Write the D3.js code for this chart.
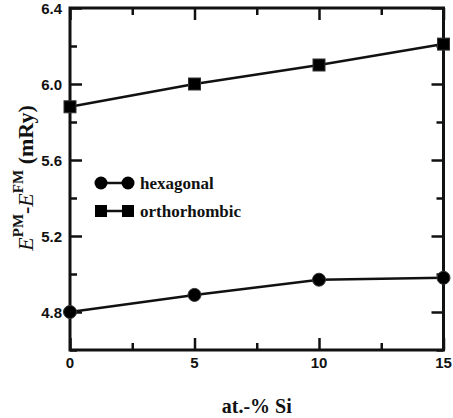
<!DOCTYPE html>
<html><head><meta charset="utf-8">
<script src="https://cdn.jsdelivr.net/npm/d3@7"></script>
<style>body{margin:0;background:#fff}svg{display:block}
.serif{font-family:"Liberation Serif","Times New Roman",Times,Tinos,"Nimbus Roman","DejaVu Serif",serif}
.sans{font-family:"Liberation Sans",Arial,Helvetica,Arimo,"Nimbus Sans","DejaVu Sans",sans-serif}
</style>
</head><body>
<svg id="c" width="453" height="418"></svg>
<script>
const siPercent = [0, 5, 10, 15];
const hexagonal = [4.80, 4.89, 4.97, 4.98];
const orthorhombic = [5.88, 6.00, 6.10, 6.21];
const xMajor = [0, 5, 10, 15];
const xMinor = [2.5, 7.5, 12.5];
const yMajor = [4.8, 5.2, 5.6, 6.0, 6.4];
const yMinor = [4.6, 5.0, 5.4, 5.8, 6.2];
const seriesNames = ["hexagonal", "orthorhombic"];

const svg = d3.select("#c");
const L = 70, R = 443.5, T = 8, B = 350;
const x = d3.scaleLinear().domain([0, 15]).range([L, R]);
const y = d3.scaleLinear().domain([4.6, 6.4]).range([B, T]);
const col = "#111";

const tickStyle = g => { g.select(".domain").remove(); g.selectAll("line").attr("stroke", col).attr("stroke-width", 2.5); g.selectAll("text").remove(); };
svg.append("g").attr("transform", `translate(0,${B})`).call(d3.axisBottom(x).tickValues(xMajor).tickSize(-12)).call(tickStyle);
svg.append("g").attr("transform", `translate(0,${B})`).call(d3.axisBottom(x).tickValues(xMinor).tickSize(-7)).call(tickStyle);
svg.append("g").attr("transform", `translate(0,${T})`).call(d3.axisTop(x).tickValues(xMajor).tickSize(-12)).call(tickStyle);
svg.append("g").attr("transform", `translate(0,${T})`).call(d3.axisTop(x).tickValues(xMinor).tickSize(-7)).call(tickStyle);
svg.append("g").attr("transform", `translate(${L},0)`).call(d3.axisLeft(y).tickValues(yMajor).tickSize(-12)).call(tickStyle);
svg.append("g").attr("transform", `translate(${L},0)`).call(d3.axisLeft(y).tickValues(yMinor).tickSize(-7)).call(tickStyle);
svg.append("g").attr("transform", `translate(${R},0)`).call(d3.axisRight(y).tickValues(yMajor).tickSize(-12)).call(tickStyle);
svg.append("g").attr("transform", `translate(${R},0)`).call(d3.axisRight(y).tickValues(yMinor).tickSize(-7)).call(tickStyle);

svg.append("rect").attr("x", L).attr("y", T).attr("width", R - L).attr("height", B - T)
  .attr("fill", "none").attr("stroke", col).attr("stroke-width", 3);

svg.append("g").selectAll("text").data(yMajor).join("text").attr("class", "sans")
  .attr("x", L - 8).attr("y", d => y(d) + 5.5).attr("text-anchor", "end")
  .attr("font-weight", "bold").attr("font-size", 15).attr("fill", col)
  .text(d => d.toFixed(1));
svg.append("g").selectAll("text").data(xMajor).join("text").attr("class", "sans")
  .attr("x", d => x(d)).attr("y", 368).attr("text-anchor", "middle")
  .attr("font-weight", "bold").attr("font-size", 15).attr("fill", col)
  .text(d => d);

const line = d3.line().x(d => x(d[0])).y(d => y(d[1]));
const hexPts = siPercent.map((s, i) => [s, hexagonal[i]]);
const ortPts = siPercent.map((s, i) => [s, orthorhombic[i]]);
svg.append("path").attr("d", line(hexPts)).attr("fill", "none").attr("stroke", col).attr("stroke-width", 2.5);
svg.append("path").attr("d", line(ortPts)).attr("fill", "none").attr("stroke", col).attr("stroke-width", 2.5);
svg.append("g").selectAll("circle").data(hexPts).join("circle")
  .attr("cx", d => x(d[0])).attr("cy", d => y(d[1])).attr("r", 6.5).attr("fill", "#000").attr("stroke", "#333").attr("stroke-width", 1);
svg.append("g").selectAll("rect").data(ortPts).join("rect")
  .attr("x", d => x(d[0]) - 6).attr("y", d => y(d[1]) - 6).attr("width", 12).attr("height", 12).attr("fill", "#000").attr("stroke", "#333").attr("stroke-width", 1);

const lg = svg.append("g");
[[183, "circle"], [211, "square"]].forEach(([ly, shape], i) => {
  lg.append("line").attr("x1", 101).attr("x2", 128).attr("y1", ly).attr("y2", ly).attr("stroke", col).attr("stroke-width", 2.5);
  [101, 128].forEach(cx => {
    if (shape === "circle") lg.append("circle").attr("cx", cx).attr("cy", ly).attr("r", 6.5).attr("fill", "#000");
    else lg.append("rect").attr("x", cx - 6).attr("y", ly - 6).attr("width", 12).attr("height", 12).attr("fill", "#000");
  });
  lg.append("text").attr("class", "serif").attr("x", 140).attr("y", ly + 5.5).attr("font-weight", "bold")
    .attr("font-size", 17).attr("fill", col).text(seriesNames[i]);
});

svg.append("text").attr("class", "serif").attr("x", (L + R) / 2).attr("y", 413).attr("text-anchor", "middle")
  .attr("font-weight", "bold").attr("font-size", 20).attr("fill", col).text("at.-% Si");

const yt = svg.append("text").attr("class", "serif").attr("transform", "translate(33,178) rotate(-90)").attr("text-anchor", "middle")
  .attr("font-size", 22).attr("fill", col);
yt.append("tspan").attr("font-style", "italic").text("E");
yt.append("tspan").attr("font-size", 15).attr("dy", -10).attr("font-weight", "bold").text("PM");
yt.append("tspan").attr("dy", 10).attr("font-weight", "bold").text("-");
yt.append("tspan").attr("font-style", "italic").text("E");
yt.append("tspan").attr("font-size", 15).attr("dy", -10).attr("font-weight", "bold").text("FM");
yt.append("tspan").attr("dy", 10).attr("font-weight", "bold").text(" (mRy)");
</script>
</body></html>
